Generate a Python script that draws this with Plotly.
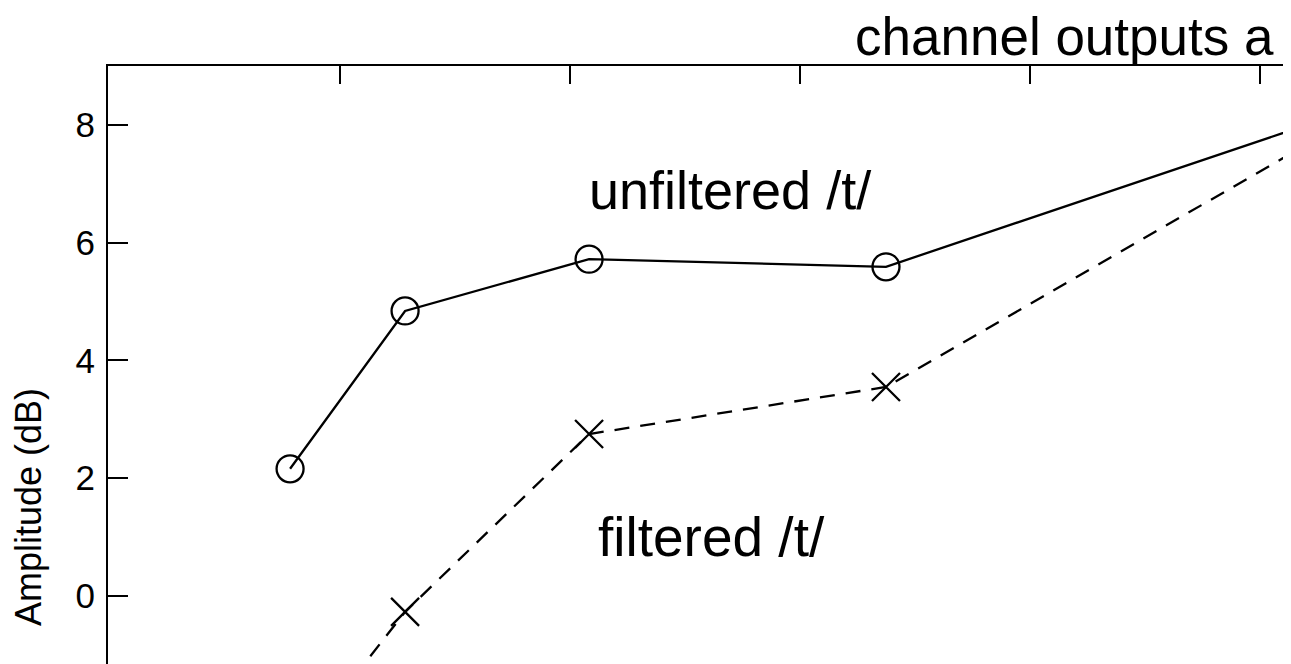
import plotly.graph_objects as go

# channel positions (arbitrary linear units; top ticks at 1..5)
x_channels = [0.783, 1.283, 2.083, 3.374, 5.44]
unfiltered_db = [2.16, 4.84, 5.72, 5.59, 8.31]
filtered_db = [-2.76, -0.27, 2.75, 3.55, 8.2]
x_tick_vals = [1, 2, 3, 4, 5]
y_tick_vals = [0, 2, 4, 6, 8]

FONT = "Liberation Sans, Arial, Helvetica, sans-serif"

# page body has ~8px default margin; compensate so plot area lands at (108, 66)
W, H = 1283, 656
ML, MT = 100, 58
PW, PH = W - ML, H - MT

fig = go.Figure()
fig.add_trace(go.Scatter(
    x=x_channels, y=unfiltered_db, mode="lines+markers",
    line=dict(color="black", width=2.3),
    marker=dict(symbol="circle-open", size=27, color="black", line=dict(width=2.3)),
    showlegend=False, cliponaxis=True,
))
fig.add_trace(go.Scatter(
    x=x_channels, y=filtered_db, mode="lines+markers",
    line=dict(color="black", width=2.3, dash="15px,11px"),
    marker=dict(symbol="x-thin-open", size=28, color="black", line=dict(width=2.3, color="black")),
    showlegend=False, cliponaxis=True,
))

fig.add_annotation(x=2.696, y=6.9, xref="x", yref="y", text="unfiltered /t/",
                   showarrow=False, font=dict(family=FONT, size=54, color="black"),
                   xanchor="center", yanchor="middle")
fig.add_annotation(x=2.617, y=1.0, xref="x", yref="y", text="filtered /t/",
                   showarrow=False, font=dict(family=FONT, size=55, color="black"),
                   xanchor="center", yanchor="middle")
fig.add_annotation(x=(853 - 108) / PW, y=1 + (66 - 36) / PH, xref="paper", yref="paper",
                   text="channel outputs a", showarrow=False,
                   font=dict(family=FONT, size=53, color="black"),
                   xanchor="left", yanchor="middle")
fig.add_annotation(x=(28 - 108) / PW, y=1 - (507 - 66) / PH, xref="paper", yref="paper",
                   text="Amplitude (dB)", textangle=-90, showarrow=False,
                   font=dict(family=FONT, size=36, color="black"),
                   xanchor="center", yanchor="middle")

fig.update_layout(
    width=W, height=H,
    margin=dict(l=ML, r=0, t=MT, b=0, pad=0),
    paper_bgcolor="white", plot_bgcolor="white",
    font=dict(family=FONT, color="black"),
    xaxis=dict(range=[-0.0087, 5.135], side="top", tickvals=x_tick_vals,
               showticklabels=False, ticks="inside", ticklen=18, tickwidth=2.3,
               tickcolor="black", showline=True, linewidth=2.3, linecolor="black",
               mirror=False, showgrid=False, zeroline=False),
    yaxis=dict(range=[-1.155, 9.0], tickvals=y_tick_vals, ticks="inside",
               ticklen=20, tickwidth=2.3, tickcolor="black", showline=True,
               linewidth=2.3, linecolor="black", mirror=False, showgrid=False,
               zeroline=False, ticklabelstandoff=4,
               tickfont=dict(family=FONT, size=35, color="black")),
)

fig.write_html("out.html")
